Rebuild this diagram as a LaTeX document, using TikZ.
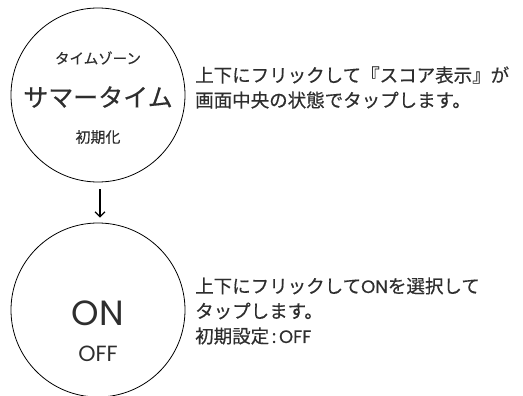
\documentclass[tikz,border=0pt]{standalone}
\usepackage{fontspec}
\setmainfont[FakeBold=0.4]{Noto Sans CJK JP}
\newfontfamily\geo{Poppins}
\newfontfamily\geob[FakeBold=0.5]{Poppins}
\usetikzlibrary{arrows.meta}
\definecolor{txt}{HTML}{2E2E2E}
\tikzset{
  dial/.style={circle,draw=black,line width=0.8pt,minimum size=174pt,inner sep=0pt},
  lbl/.style={text=txt,inner sep=0pt,anchor=center},
  note/.style={text=txt,inner sep=0pt,anchor=west,align=left,font=\fontsize{18.5pt}{25pt}\selectfont},
}
\begin{document}
\begin{tikzpicture}[x=1pt,y=-1pt]
\useasboundingbox (0,0) rectangle (523,396);
\node[dial] (c1) at (98,95) {};
\node[dial] (c2) at (98,310) {};
\node[lbl,font=\fontsize{14.5pt}{16pt}\selectfont] (t1) at (98,58) {タイムゾーン};
\node[lbl,font=\fontsize{25pt}{28pt}\selectfont] (t2) at (98,97) {サマータイム};
\node[lbl,font=\fontsize{15pt}{17pt}\selectfont] (t3) at (98,137) {初期化};
\node[lbl,font=\geo\fontsize{35pt}{36pt}\selectfont] (on) at (98,313) {ON};
\node[lbl,font=\geo\fontsize{22pt}{24pt}\selectfont] (off) at (98,354) {OFF};
\node[note] (n1) at (195,87.5) {上下にフリックして『スコア表示』が\\画面中央の状態でタップします。};
\node[note] (n2) at (195,311) {上下にフリックして{\geob\fontsize{18pt}{25pt}\selectfont ON}を選択して\\タップします。\\初期設定{\geob\fontsize{18pt}{25pt}\selectfont\,:\,OFF}};
\draw[line width=1.2pt,-{Straight Barb[length=5pt,width=10pt,line width=1.2pt]},shorten <=7pt,shorten >=5pt] ([xshift=2pt]c1.south) -- ([xshift=2pt]c2.north);
\end{tikzpicture}
\end{document}
